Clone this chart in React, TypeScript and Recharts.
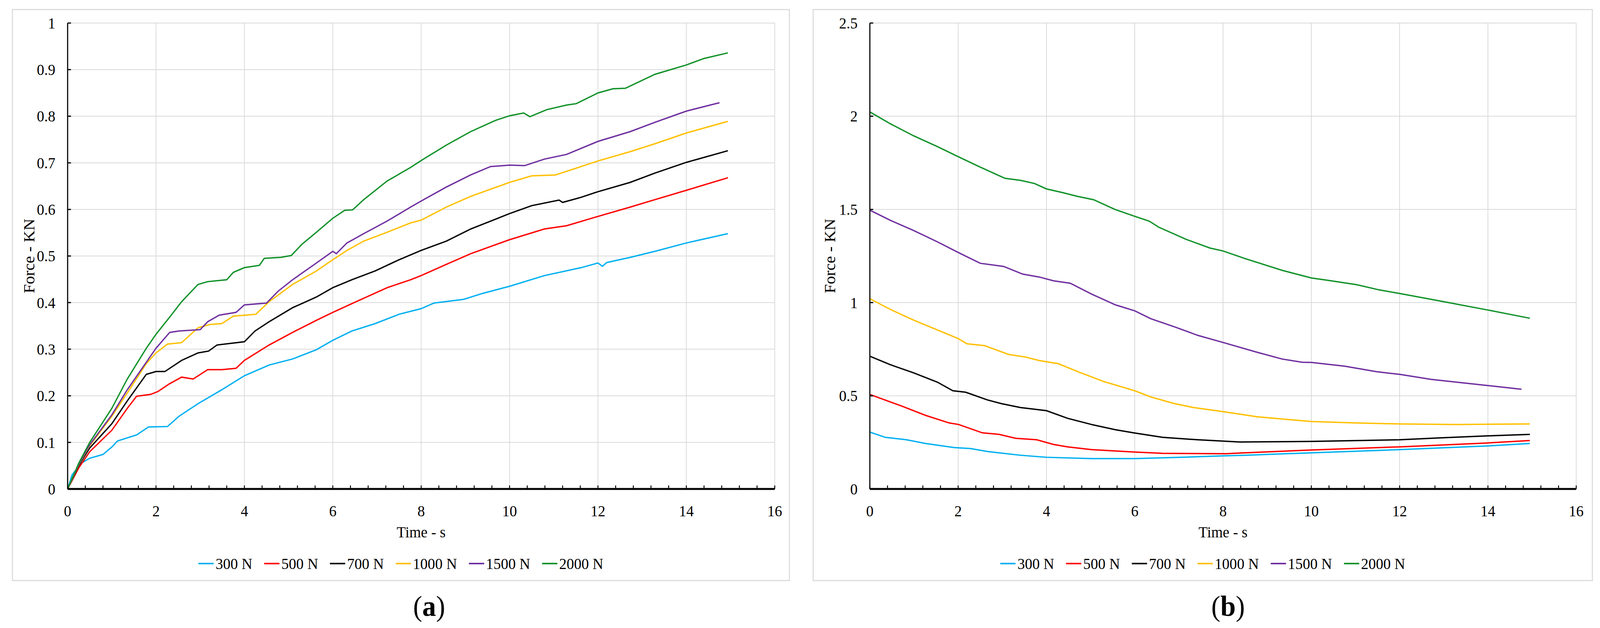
import React from 'react';
import { LineChart, Line, XAxis, YAxis, CartesianGrid, Legend, Label } from 'recharts';

const FONT = "'Liberation Serif', serif";

const SERIES_NAMES = ['300 N', '500 N', '700 N', '1000 N', '1500 N', '2000 N'];
const COLORS = ['#00B0F0', '#FF0000', '#000000', '#FFC000', '#7030A0', '#12922A'];

const X_MAJOR = [0, 2, 4, 6, 8, 10, 12, 14, 16];
const X_MINOR = Array.from({ length: 41 }, (_, i) => Math.round(i * 4) / 10);
const Y_TICKS_A = [0, 0.1, 0.2, 0.3, 0.4, 0.5, 0.6, 0.7, 0.8, 0.9, 1];
const Y_TICKS_B = [0, 0.5, 1, 1.5, 2, 2.5];

// (a) force rising with time
const tA300 = [0, 0.1, 0.3, 0.5, 0.8, 1.0, 1.13, 1.56, 1.83, 2.26, 2.52, 2.95, 3.49, 4, 4.56, 5.09, 5.63, 6, 6.43, 6.96, 7.5, 8, 8.29, 8.96, 9.4, 10, 10.79, 11.62, 12, 12.1, 12.2, 12.73, 13.29, 14, 14.94];
const fA300 = [0, 0.03, 0.055, 0.066, 0.074, 0.09, 0.103, 0.116, 0.133, 0.134, 0.156, 0.183, 0.213, 0.243, 0.266, 0.279, 0.299, 0.319, 0.339, 0.355, 0.375, 0.387, 0.399, 0.407, 0.42, 0.435, 0.458, 0.475, 0.485, 0.478, 0.486, 0.497, 0.51, 0.528, 0.548];

const tA500 = [0, 0.25, 0.5, 1, 1.35, 1.56, 1.88, 2.04, 2.31, 2.58, 2.84, 3.17, 3.49, 3.81, 4, 4.56, 5.09, 5.63, 6, 6.53, 7.23, 7.76, 8, 8.57, 9.12, 10, 10.79, 11.29, 12, 12.73, 13.29, 14, 14.94];
const fA500 = [0, 0.045, 0.08, 0.126, 0.173, 0.199, 0.203, 0.209, 0.226, 0.24, 0.236, 0.256, 0.256, 0.259, 0.276, 0.309, 0.336, 0.362, 0.379, 0.402, 0.432, 0.449, 0.458, 0.482, 0.505, 0.535, 0.558, 0.565, 0.585, 0.605, 0.621, 0.641, 0.668];

const tA700 = [0, 0.25, 0.5, 1, 1.35, 1.78, 2, 2.2, 2.58, 2.95, 3.19, 3.38, 4, 4.24, 4.56, 5.09, 5.63, 6, 6.43, 6.96, 7.5, 8, 8.57, 9.12, 10, 10.5, 11.12, 11.2, 11.62, 12, 12.73, 13.29, 14, 14.94];
const fA700 = [0, 0.05, 0.088, 0.14, 0.189, 0.246, 0.252, 0.252, 0.276, 0.292, 0.296, 0.309, 0.316, 0.339, 0.359, 0.389, 0.412, 0.432, 0.449, 0.468, 0.492, 0.512, 0.532, 0.558, 0.591, 0.608, 0.62, 0.615, 0.626, 0.638, 0.658, 0.678, 0.701, 0.726];

const tA1000 = [0, 0.25, 0.5, 1, 1.35, 1.78, 2, 2.26, 2.58, 2.95, 3.22, 3.49, 3.75, 4.02, 4.26, 4.56, 5.09, 5.63, 6, 6.32, 6.7, 7.23, 7.76, 8, 8.57, 9.12, 10, 10.5, 11.04, 11.62, 12, 12.73, 13.29, 14, 14.94];
const fA1000 = [0, 0.052, 0.093, 0.156, 0.206, 0.269, 0.292, 0.311, 0.314, 0.346, 0.353, 0.355, 0.371, 0.373, 0.375, 0.402, 0.439, 0.468, 0.492, 0.512, 0.532, 0.551, 0.571, 0.577, 0.605, 0.628, 0.658, 0.672, 0.674, 0.692, 0.704, 0.724, 0.741, 0.764, 0.789];

const tA1500 = [0, 0.25, 0.5, 1, 1.35, 1.78, 2, 2.31, 2.52, 3.0, 3.17, 3.43, 3.81, 4, 4.5, 4.77, 5.09, 5.63, 6, 6.08, 6.32, 6.7, 7.23, 7.76, 8, 8.57, 9.12, 9.57, 10, 10.34, 10.79, 11.29, 12, 12.73, 13.29, 14, 14.75];
const fA1500 = [0, 0.053, 0.095, 0.159, 0.213, 0.272, 0.302, 0.336, 0.339, 0.342, 0.359, 0.373, 0.379, 0.395, 0.399, 0.425, 0.449, 0.485, 0.51, 0.505, 0.528, 0.548, 0.575, 0.605, 0.618, 0.648, 0.674, 0.692, 0.695, 0.694, 0.708, 0.718, 0.746, 0.767, 0.787, 0.811, 0.829];

const tA2000 = [0, 0.25, 0.5, 1, 1.35, 1.78, 2, 2.31, 2.58, 2.95, 3.17, 3.6, 3.75, 4, 4.34, 4.45, 4.82, 5.06, 5.3, 5.63, 6, 6.27, 6.45, 6.7, 7.23, 7.76, 8, 8.57, 9.12, 9.68, 10, 10.32, 10.46, 10.84, 11.29, 11.51, 12, 12.34, 12.62, 13.29, 14, 14.4, 14.94];
const fA2000 = [0, 0.055, 0.1, 0.173, 0.236, 0.302, 0.332, 0.369, 0.402, 0.439, 0.445, 0.449, 0.465, 0.475, 0.48, 0.495, 0.497, 0.501, 0.525, 0.551, 0.581, 0.598, 0.599, 0.621, 0.661, 0.69, 0.705, 0.738, 0.767, 0.791, 0.801, 0.807, 0.799, 0.814, 0.824, 0.827, 0.85, 0.859, 0.86, 0.89, 0.91, 0.924, 0.936];

// (b) force falling with time
const tB300 = [0, 0.35, 0.83, 1.26, 1.91, 2.28, 2.66, 3.41, 4, 5.02, 6, 7.17, 8.07, 8.5, 10, 12, 14, 14.95];
const fB300 = [0.305, 0.277, 0.264, 0.244, 0.222, 0.217, 0.201, 0.181, 0.17, 0.163, 0.163, 0.171, 0.178, 0.181, 0.194, 0.211, 0.231, 0.244];

const tB500 = [0, 0.72, 1.26, 1.8, 2.01, 2.55, 2.93, 3.3, 3.78, 4.16, 4.48, 5.02, 6, 6.63, 8.07, 8.38, 10, 12, 14, 14.95];
const fB500 = [0.507, 0.445, 0.395, 0.354, 0.346, 0.301, 0.293, 0.272, 0.264, 0.239, 0.226, 0.211, 0.198, 0.191, 0.189, 0.193, 0.209, 0.226, 0.247, 0.26];

const tB700 = [0, 0.46, 0.99, 1.53, 1.88, 2.17, 2.66, 2.98, 3.41, 4, 4.48, 5.02, 5.56, 6, 6.63, 7.43, 8.38, 10, 12, 13, 14, 14.95];
const fB700 = [0.712, 0.667, 0.623, 0.573, 0.527, 0.519, 0.478, 0.458, 0.437, 0.42, 0.379, 0.346, 0.318, 0.3, 0.277, 0.264, 0.252, 0.255, 0.264, 0.275, 0.285, 0.293];

const tB1000 = [0, 0.46, 0.99, 1.53, 2, 2.2, 2.6, 3.14, 3.52, 3.84, 4.27, 4.75, 5.29, 6, 6.36, 6.9, 7.33, 8, 8.78, 10, 11.03, 12, 13.29, 14.95];
const fB1000 = [1.021, 0.964, 0.906, 0.853, 0.807, 0.779, 0.769, 0.722, 0.708, 0.689, 0.672, 0.626, 0.577, 0.527, 0.494, 0.458, 0.437, 0.415, 0.387, 0.362, 0.354, 0.349, 0.346, 0.349];

const tB1500 = [0, 0.46, 0.99, 1.53, 2, 2.5, 3.03, 3.46, 3.84, 4.16, 4.54, 5.02, 5.56, 6, 6.36, 6.9, 7.43, 8, 8.78, 9.34, 9.79, 10, 10.75, 11.48, 12, 12.72, 14, 14.76];
const fB1500 = [1.496, 1.442, 1.387, 1.326, 1.269, 1.211, 1.194, 1.153, 1.137, 1.117, 1.104, 1.046, 0.988, 0.956, 0.914, 0.87, 0.824, 0.786, 0.733, 0.697, 0.68, 0.679, 0.659, 0.629, 0.615, 0.588, 0.555, 0.535];

const tB2000 = [0, 0.46, 0.99, 1.53, 2, 2.5, 3.06, 3.41, 3.73, 4, 4.37, 4.7, 5.07, 5.56, 6, 6.33, 6.54, 7.17, 7.7, 8, 8.5, 9.34, 10, 10.36, 11.03, 11.54, 12, 13, 14, 14.95];
const fB2000 = [2.023, 1.96, 1.895, 1.837, 1.783, 1.727, 1.667, 1.656, 1.639, 1.61, 1.59, 1.57, 1.552, 1.499, 1.463, 1.437, 1.405, 1.339, 1.293, 1.277, 1.236, 1.173, 1.132, 1.12, 1.096, 1.068, 1.049, 1.005, 0.96, 0.916];

const toPoints = (t: number[], f: number[]) => t.map((x, i) => ({ t: x, f: f[i] }));

const SERIES_A = [toPoints(tA300, fA300), toPoints(tA500, fA500), toPoints(tA700, fA700), toPoints(tA1000, fA1000), toPoints(tA1500, fA1500), toPoints(tA2000, fA2000)];
const SERIES_B = [toPoints(tB300, fB300), toPoints(tB500, fB500), toPoints(tB700, fB700), toPoints(tB1000, fB1000), toPoints(tB1500, fB1500), toPoints(tB2000, fB2000)];

const TXT = { fontFamily: FONT, fontSize: 40, fill: '#000', style: { fontFamily: FONT } };

function XTick({ x, y, payload }: any) {
  const v = payload.value;
  return (
    <g>
      <line x1={x} x2={x} y1={y} y2={y - 9} stroke="#000" strokeWidth={2.5} />
      {X_MAJOR.includes(v) && (
        <text x={x} y={y + 56} textAnchor="middle" dominantBaseline="central" {...TXT}>{v}</text>
      )}
    </g>
  );
}

function YTick({ x, y, payload }: any) {
  return (
    <g>
      <line x1={x} x2={x + 9} y1={y} y2={y} stroke="#000" strokeWidth={3} />
      <text x={x - 33} y={y} textAnchor="end" dominantBaseline="central" {...TXT}>{payload.value}</text>
    </g>
  );
}

function LegendRow() {
  return (
    <div style={{ display: 'flex', justifyContent: 'center', alignItems: 'center', height: 50, fontFamily: FONT, fontSize: 40, color: '#000' }}>
      {SERIES_NAMES.map((n, i) => (
        <div key={n} style={{ display: 'flex', alignItems: 'center', marginLeft: i ? 32 : 0 }}>
          <span style={{ display: 'inline-block', width: 41, height: 4, background: COLORS[i], marginRight: 5 }} />
          <span>{n}</span>
        </div>
      ))}
    </div>
  );
}

function Panel({ series, yTicks, yMax, width, yAxisWidth, rightMargin }: any) {
  const height = 1459;
  return (
    <LineChart width={width} height={height} margin={{ top: 33, right: rightMargin, left: 0, bottom: 17 }}>
      <CartesianGrid stroke="#d9d9d9" strokeWidth={2} verticalValues={X_MAJOR} />
      <XAxis
        dataKey="t"
        type="number"
        domain={[0, 16]}
        ticks={X_MINOR}
        interval={0}
        height={166}
        tickSize={0}
        tickMargin={0}
        tickLine={false}
        tick={<XTick />}
        axisLine={{ stroke: '#000', strokeWidth: 5 }}
        allowDataOverflow
      >
        <Label
          content={({ viewBox }: any) => (
            <text x={viewBox.x + viewBox.width / 2} y={viewBox.y + 110} textAnchor="middle" dominantBaseline="central" {...TXT}>Time - s</text>
          )}
        />
      </XAxis>
      <YAxis
        type="number"
        domain={[0, yMax]}
        ticks={yTicks}
        interval={0}
        width={yAxisWidth}
        tickSize={0}
        tickMargin={0}
        tickLine={false}
        tick={<YTick />}
        axisLine={{ stroke: '#000', strokeWidth: 3 }}
        allowDataOverflow
      >
        <Label
          content={({ viewBox }: any) => {
            const cx = viewBox.x + 43;
            const cy = viewBox.y + viewBox.height / 2;
            return (
              <text x={cx} y={cy} transform={`rotate(-90, ${cx}, ${cy})`} textAnchor="middle" dominantBaseline="central" {...TXT} fontSize={42}>Force - KN</text>
            );
          }}
        />
      </YAxis>
      <Legend verticalAlign="bottom" content={<LegendRow />} wrapperStyle={{ left: 0, width, height: 50 }} />
      {series.map((pts: any[], i: number) => (
        <Line
          key={SERIES_NAMES[i]}
          data={pts}
          dataKey="f"
          name={SERIES_NAMES[i]}
          type="linear"
          stroke={COLORS[i]}
          strokeWidth={3.5}
          dot={false}
          activeDot={false}
          isAnimationActive={false}
        />
      ))}
    </LineChart>
  );
}

const boxStyle = (left: number, width: number): React.CSSProperties => ({
  position: 'absolute',
  left,
  top: 23,
  width,
  height: 1465,
  border: '3px solid #dcdcdc',
  boxSizing: 'border-box',
  background: '#fff',
});

const capStyle = (cx: number): React.CSSProperties => ({
  position: 'absolute',
  left: cx - 100,
  top: 1552 - 45,
  width: 200,
  height: 90,
  lineHeight: '90px',
  textAlign: 'center',
  fontFamily: FONT,
  fontSize: 74,
  color: '#000',
});

export default function App() {
  // the browser viewport can be narrower than the 4306 x 1608 figure: fit it
  const sx = typeof window !== 'undefined' && window.innerWidth ? window.innerWidth / 4306 : 1;
  const sy = typeof window !== 'undefined' && window.innerHeight ? window.innerHeight / 1608 : 1;
  return (
    <div style={{ position: 'fixed', left: 0, top: 0, width: 4306, height: 1608, background: '#fff', overflow: 'hidden', transform: `scale(${sx}, ${sy})`, transformOrigin: '0 0' }}>
      <div style={boxStyle(32, 2094)}>
        <Panel series={SERIES_A} yTicks={Y_TICKS_A} yMax={1} width={2088} yAxisWidth={147} rightMargin={38} />
      </div>
      <div style={boxStyle(2187, 2100)}>
        <Panel series={SERIES_B} yTicks={Y_TICKS_B} yMax={2.5} width={2094} yAxisWidth={151} rightMargin={42} />
      </div>
      <div style={capStyle(1155)}>(<b>a</b>)</div>
      <div style={capStyle(3305)}>(<b>b</b>)</div>
    </div>
  );
}
